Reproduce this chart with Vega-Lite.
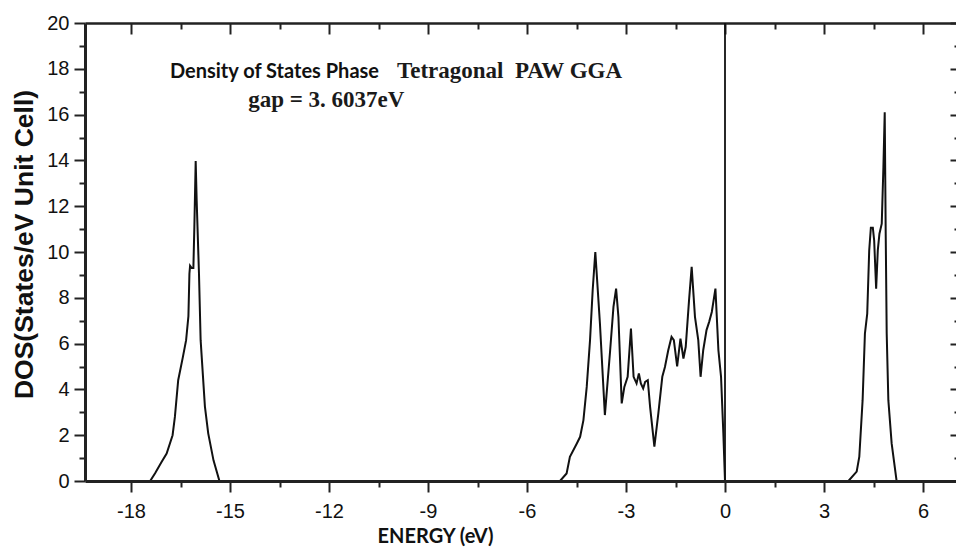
{
  "$schema": "https://vega.github.io/schema/vega-lite/v6.json",
  "width": 871,
  "height": 458,
  "autosize": {"type": "none"},
  "padding": {"left": 85, "top": 23, "right": 0, "bottom": 66},
  "background": "white",
  "config": {"view": {"stroke": null}},
  "datasets": {
    "dos": [
      {"energy": -19.39, "dos": 0},
      {"energy": -17.42, "dos": 0},
      {"energy": -17.27, "dos": 0.34},
      {"energy": -17.07, "dos": 0.84},
      {"energy": -16.92, "dos": 1.2},
      {"energy": -16.74, "dos": 2.0},
      {"energy": -16.67, "dos": 2.8},
      {"energy": -16.57, "dos": 4.4},
      {"energy": -16.43, "dos": 5.4},
      {"energy": -16.33, "dos": 6.15},
      {"energy": -16.26, "dos": 7.2},
      {"energy": -16.23, "dos": 9.05},
      {"energy": -16.21, "dos": 9.4},
      {"energy": -16.16, "dos": 9.3},
      {"energy": -16.11, "dos": 9.3},
      {"energy": -16.08, "dos": 11.1},
      {"energy": -16.04, "dos": 13.97},
      {"energy": -16.01, "dos": 12.25},
      {"energy": -15.94, "dos": 9.05},
      {"energy": -15.89, "dos": 6.15},
      {"energy": -15.76, "dos": 3.25},
      {"energy": -15.66, "dos": 2.08},
      {"energy": -15.5, "dos": 0.9},
      {"energy": -15.32, "dos": 0},
      {"energy": -5.0, "dos": 0},
      {"energy": -4.8, "dos": 0.33},
      {"energy": -4.7, "dos": 1.06},
      {"energy": -4.49, "dos": 1.64},
      {"energy": -4.39, "dos": 1.93},
      {"energy": -4.29, "dos": 2.66},
      {"energy": -4.19, "dos": 4.11},
      {"energy": -4.09, "dos": 6.15},
      {"energy": -4.01, "dos": 8.33},
      {"energy": -3.93, "dos": 10.0},
      {"energy": -3.79, "dos": 6.88},
      {"energy": -3.64, "dos": 2.88},
      {"energy": -3.48, "dos": 5.71},
      {"energy": -3.38, "dos": 7.6},
      {"energy": -3.3, "dos": 8.4},
      {"energy": -3.23, "dos": 7.17},
      {"energy": -3.13, "dos": 3.39},
      {"energy": -3.05, "dos": 4.11},
      {"energy": -2.95, "dos": 4.55},
      {"energy": -2.85, "dos": 6.66},
      {"energy": -2.77, "dos": 4.55},
      {"energy": -2.68, "dos": 4.26},
      {"energy": -2.61, "dos": 4.7},
      {"energy": -2.55, "dos": 4.26},
      {"energy": -2.48, "dos": 4.04},
      {"energy": -2.42, "dos": 4.33},
      {"energy": -2.34, "dos": 4.4},
      {"energy": -2.27, "dos": 3.24},
      {"energy": -2.14, "dos": 1.5},
      {"energy": -2.02, "dos": 2.95},
      {"energy": -1.9, "dos": 4.55},
      {"energy": -1.82, "dos": 4.98},
      {"energy": -1.72, "dos": 5.71},
      {"energy": -1.62, "dos": 6.29},
      {"energy": -1.55, "dos": 6.15},
      {"energy": -1.45, "dos": 5.01},
      {"energy": -1.35, "dos": 6.22},
      {"energy": -1.26, "dos": 5.35},
      {"energy": -1.19, "dos": 5.86},
      {"energy": -1.09, "dos": 7.89},
      {"energy": -1.01, "dos": 9.35},
      {"energy": -0.91, "dos": 7.17},
      {"energy": -0.81, "dos": 6.15},
      {"energy": -0.74, "dos": 4.55},
      {"energy": -0.66, "dos": 5.71},
      {"energy": -0.56, "dos": 6.59},
      {"energy": -0.48, "dos": 6.95},
      {"energy": -0.4, "dos": 7.38},
      {"energy": -0.29, "dos": 8.4},
      {"energy": -0.2, "dos": 5.71},
      {"energy": -0.12, "dos": 4.55},
      {"energy": -0.05, "dos": 2.08},
      {"energy": 0, "dos": 0},
      {"energy": 3.74, "dos": 0},
      {"energy": 3.99, "dos": 0.41},
      {"energy": 4.07, "dos": 1.06},
      {"energy": 4.17, "dos": 3.53},
      {"energy": 4.24, "dos": 6.44},
      {"energy": 4.31, "dos": 7.31},
      {"energy": 4.37, "dos": 10.07},
      {"energy": 4.42, "dos": 11.06},
      {"energy": 4.48, "dos": 11.06},
      {"energy": 4.52, "dos": 10.51},
      {"energy": 4.58, "dos": 8.4},
      {"energy": 4.63, "dos": 10.07},
      {"energy": 4.68, "dos": 10.8},
      {"energy": 4.75, "dos": 11.24},
      {"energy": 4.8, "dos": 13.7},
      {"energy": 4.84, "dos": 16.1},
      {"energy": 4.87, "dos": 10.8},
      {"energy": 4.9, "dos": 6.44},
      {"energy": 4.95, "dos": 3.53},
      {"energy": 5.05, "dos": 1.64},
      {"energy": 5.2, "dos": 0},
      {"energy": 7.0, "dos": 0}
    ]
  },
  "layer": [
    {
      "data": {"name": "dos"},
      "mark": {"type": "point", "opacity": 0},
      "encoding": {
        "x": {
          "field": "energy", "type": "quantitative",
          "scale": {"domain": [-19.394, 7.0], "nice": false, "zero": false},
          "axis": {
            "orient": "top", "title": null, "labels": false, "grid": false,
            "values": [-18, -16.5, -15, -13.5, -12, -10.5, -9, -7.5, -6, -4.5, -3, -1.5, 0, 1.5, 3, 4.5, 6],
            "tickSize": 11,
            "tickWidth": 2, "tickColor": "#222", "domainWidth": 2.5, "domainColor": "#222",
            "encoding": {"ticks": {"y2": {"value": {"expr": "datum.value % 3 === 0 ? 11 : 6"}}}}
          }
        },
        "y": {
          "field": "dos", "type": "quantitative",
          "scale": {"domain": [0, 20], "nice": false, "zero": true},
          "axis": {
            "orient": "right", "title": null, "labels": false, "grid": false, "domain": false,
            "values": [0, 1, 2, 3, 4, 5, 6, 7, 8, 9, 10, 11, 12, 13, 14, 15, 16, 17, 18, 19, 20],
            "tickSize": 6,
            "tickWidth": 2, "tickColor": "#222",
            "encoding": {"ticks": {"x2": {"value": {"expr": "datum.value % 2 === 0 ? -6 : -2"}}}}
          }
        }
      }
    },
    {
      "data": {"name": "dos"},
      "mark": {"type": "line", "color": "#111", "strokeWidth": 2, "clip": true},
      "encoding": {
        "x": {
          "field": "energy", "type": "quantitative",
          "axis": {
            "orient": "bottom", "grid": false, "zindex": 1,
            "values": [-18, -16.5, -15, -13.5, -12, -10.5, -9, -7.5, -6, -4.5, -3, -1.5, 0, 1.5, 3, 4.5, 6],
            "labelExpr": "datum.value % 3 === 0 ? toString(datum.value) : ''",
            "tickSize": 11,
            "encoding": {"ticks": {"y2": {"value": {"expr": "datum.value % 3 === 0 ? 11 : 6"}}}},
            "tickWidth": 2, "tickColor": "#222", "domainWidth": 3, "domainColor": "#222",
            "labelFont": "Liberation Sans", "labelFontSize": 20, "labelColor": "#111",
            "labelPadding": 9, "labelOverlap": false, "labelFlush": false,
            "title": "ENERGY (eV)", "titleFont": "Lato", "titleFontWeight": "bold", "titleFontSize": 20,
            "titleColor": "#111", "titleX": 350, "titleY": 61, "titleAlign": "center", "titleBaseline": "alphabetic", "titleAnchor": null
          }
        },
        "y": {
          "field": "dos", "type": "quantitative",
          "axis": {
            "orient": "left", "grid": false, "zindex": 1,
            "values": [0, 1, 2, 3, 4, 5, 6, 7, 8, 9, 10, 11, 12, 13, 14, 15, 16, 17, 18, 19, 20],
            "labelExpr": "datum.value % 2 === 0 ? toString(datum.value) : ''",
            "tickSize": 11,
            "encoding": {"ticks": {"x2": {"value": {"expr": "datum.value % 2 === 0 ? -11 : -6"}}}},
            "tickWidth": 2, "tickColor": "#222", "domainWidth": 3, "domainColor": "#222",
            "labelFont": "Liberation Sans", "labelFontSize": 20, "labelColor": "#111",
            "labelPadding": 5, "labelOverlap": false, "labelFlush": false,
            "title": "DOS(States/eV Unit Cell)", "titleFont": "Liberation Sans", "titleFontWeight": "bold", "titleFontSize": 26.5,
            "titleColor": "#111", "titleX": -53, "titleY": 221, "titleAngle": -90, "titleAlign": "center", "titleBaseline": "alphabetic"
          }
        }
      }
    },
    {
      "data": {"values": [{}]},
      "mark": {"type": "rule", "color": "#111", "strokeWidth": 1.8},
      "encoding": {
        "x": {"datum": 0, "type": "quantitative", "axis": null}
      }
    },
    {
      "data": {"values": [{"label": "Density of States Phase"}]},
      "mark": {"type": "text", "font": "Lato", "fontWeight": "bold", "fontSize": 20, "align": "left", "baseline": "alphabetic", "color": "#111"},
      "encoding": {
        "x": {"datum": -16.82, "type": "quantitative", "axis": null},
        "y": {"datum": 17.59, "type": "quantitative", "axis": null},
        "text": {"field": "label"}
      }
    },
    {
      "data": {"values": [{"label": "Tetragonal\u00a0 PAW GGA"}]},
      "mark": {"type": "text", "font": "Liberation Serif", "fontWeight": "bold", "fontSize": 23, "align": "left", "baseline": "alphabetic", "color": "#1a1a1a"},
      "encoding": {
        "x": {"datum": -9.94, "type": "quantitative", "axis": null},
        "y": {"datum": 17.59, "type": "quantitative", "axis": null},
        "text": {"field": "label"}
      }
    },
    {
      "data": {"values": [{"label": "gap = 3. 6037eV"}]},
      "mark": {"type": "text", "font": "Liberation Serif", "fontWeight": "bold", "fontSize": 23, "align": "left", "baseline": "alphabetic", "color": "#1a1a1a"},
      "encoding": {
        "x": {"datum": -14.45, "type": "quantitative", "axis": null},
        "y": {"datum": 16.32, "type": "quantitative", "axis": null},
        "text": {"field": "label"}
      }
    }
  ]
}
